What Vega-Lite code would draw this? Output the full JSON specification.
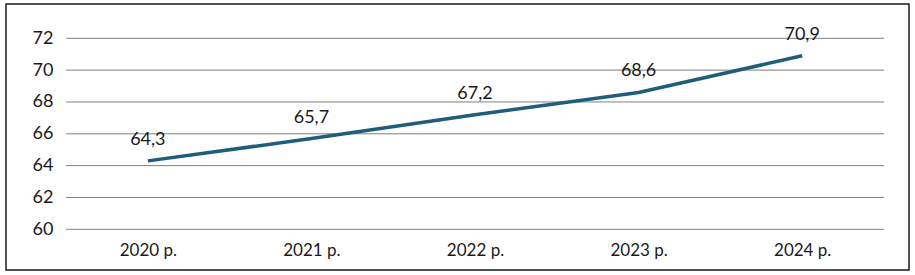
{
  "$schema": "https://vega.github.io/schema/vega-lite/v6.json",
  "autosize": "none",
  "width": 903,
  "height": 266,
  "padding": {"left": 6, "top": 4, "right": 6, "bottom": 5},
  "background": "white",
  "config": {
    "view": {"stroke": "#1a1a1a", "strokeWidth": 1.5},
    "font": "Lato",
    "locale": {"number": {"decimal": ",", "thousands": " ", "grouping": [3], "currency": ["", ""]}}
  },
  "datasets": {
    "vals": [
      {"year": 2020, "value": 64.3},
      {"year": 2021, "value": 65.7},
      {"year": 2022, "value": 67.2},
      {"year": 2023, "value": 68.6},
      {"year": 2024, "value": 70.9}
    ],
    "grid": [
      {"y": 60}, {"y": 62}, {"y": 64}, {"y": 66}, {"y": 68}, {"y": 70}, {"y": 72}
    ]
  },
  "layer": [
    {
      "data": {"name": "grid"},
      "mark": {"type": "rule", "color": "#7f7f7f", "strokeWidth": 1},
      "encoding": {
        "x": {"datum": 2019.5, "type": "quantitative", "scale": {"domain": [2019.133, 2024.653], "nice": false, "zero": false},
              "axis": {"values": [2020, 2021, 2022, 2023, 2024], "format": "d", "labelExpr": "datum.label + ' р.'", "title": null, "domain": false, "ticks": false, "grid": false, "offset": -15, "labelPadding": 0, "labelBaseline": "alphabetic", "labelFontSize": 17, "labelColor": "#1a1a1a", "labelFont": "Lato"}},
        "x2": {"datum": 2024.5},
        "y": {"field": "y", "type": "quantitative", "scale": {"domain": [57.443, 74.155], "nice": false, "zero": false},
              "axis": {"values": [60, 62, 64, 66, 68, 70, 72], "title": null, "domain": false, "ticks": false, "grid": false, "offset": -49, "labelPadding": 2, "labelFontSize": 18, "labelColor": "#1a1a1a", "labelFont": "Lato"}}
      }
    },
    {
      "data": {"name": "vals"},
      "mark": {"type": "line", "color": "#1f5e7a", "strokeWidth": 3.5},
      "encoding": {
        "x": {"field": "year", "type": "quantitative"},
        "y": {"field": "value", "type": "quantitative"}
      }
    },
    {
      "data": {"name": "vals"},
      "mark": {"type": "text", "baseline": "alphabetic", "dy": -16, "fontSize": 18, "color": "#1a1a1a", "font": "Lato"},
      "encoding": {
        "x": {"field": "year", "type": "quantitative"},
        "y": {"field": "value", "type": "quantitative"},
        "text": {"field": "value", "type": "quantitative", "format": ".1f"}
      }
    }
  ]
}
